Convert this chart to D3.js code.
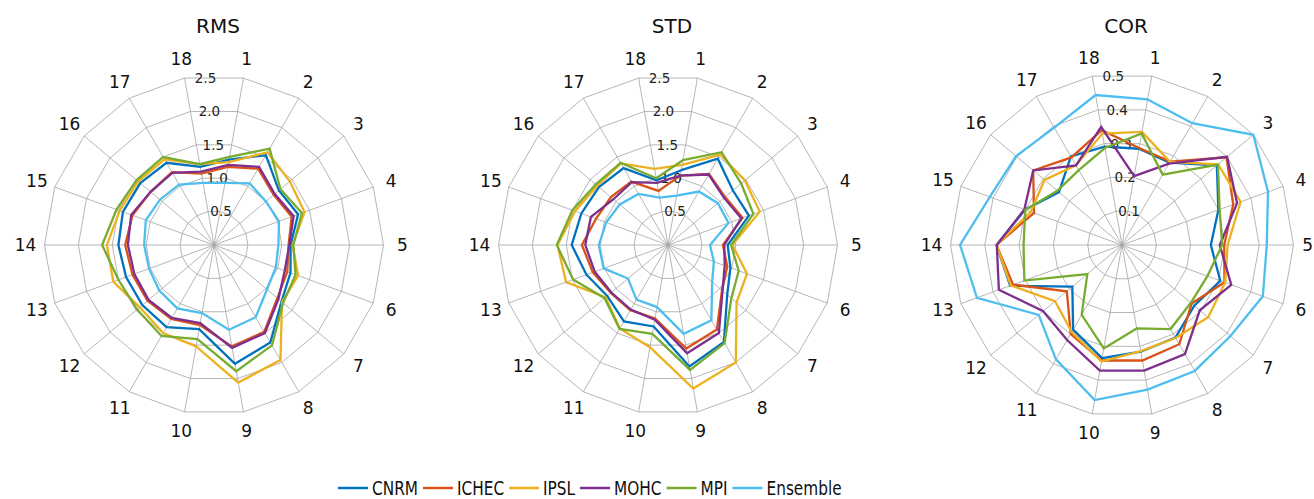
<!DOCTYPE html>
<html>
<head>
<meta charset="utf-8">
<script src="https://cdn.jsdelivr.net/npm/d3@7"></script>
<style>
  html, body { margin: 0; padding: 0; background: #fff; }
  svg { display: block; }
</style>
</head>
<body>
<script>
// Region numbers around each radar
const categories = ["1","2","3","4","5","6","7","8","9","10","11","12","13","14","15","16","17","18"];

const seriesNames = ["CNRM", "ICHEC", "IPSL", "MOHC", "MPI", "Ensemble"];
const seriesColors = ["#0072BD", "#D95319", "#EDB120", "#7E2F8E", "#77AC30", "#4DBEEE"];

// RMS per region
const rmsCNRM  = [1.28, 1.53, 1.25, 1.32, 1.13, 1.20, 1.30, 1.66, 1.78, 1.26, 1.40, 1.38, 1.38, 1.41, 1.43, 1.42, 1.40, 1.17];
const rmsICHEC = [1.17, 1.30, 1.15, 1.22, 1.10, 1.15, 1.22, 1.48, 1.52, 1.20, 1.26, 1.28, 1.28, 1.31, 1.28, 1.22, 1.24, 1.07];
const rmsIPSL  = [1.24, 1.58, 1.46, 1.42, 1.16, 1.32, 1.31, 1.96, 2.06, 1.52, 1.50, 1.43, 1.58, 1.58, 1.48, 1.46, 1.46, 1.21];
const rmsMOHC  = [1.20, 1.33, 1.17, 1.25, 1.11, 1.11, 1.24, 1.50, 1.54, 1.17, 1.24, 1.26, 1.25, 1.27, 1.30, 1.22, 1.23, 1.10];
const rmsMPI   = [1.32, 1.64, 1.28, 1.38, 1.17, 1.28, 1.33, 1.71, 1.89, 1.41, 1.55, 1.48, 1.50, 1.65, 1.53, 1.49, 1.50, 1.21];
const rmsEns   = [0.93, 1.05, 1.00, 1.02, 0.95, 0.97, 1.02, 1.23, 1.27, 1.02, 1.08, 1.05, 1.02, 1.03, 1.07, 1.04, 1.03, 0.93];

// STD per region
const stdCNRM  = [1.12, 1.47, 1.25, 1.27, 0.88, 0.98, 1.14, 1.65, 1.82, 1.22, 1.30, 1.17, 1.28, 1.42, 1.36, 1.33, 1.31, 0.97];
const stdICHEC = [1.04, 1.21, 1.10, 1.17, 0.81, 0.93, 1.04, 1.44, 1.55, 1.10, 1.11, 1.10, 1.18, 1.27, 1.13, 1.10, 1.08, 0.81];
const stdIPSL  = [1.20, 1.54, 1.48, 1.44, 0.95, 1.24, 1.32, 2.00, 2.15, 1.53, 1.42, 1.20, 1.60, 1.63, 1.46, 1.36, 1.39, 1.14];
const stdMOHC  = [1.04, 1.20, 1.08, 1.15, 0.83, 0.89, 1.05, 1.50, 1.62, 1.12, 1.10, 1.09, 1.15, 1.22, 1.21, 1.05, 1.07, 0.93];
const stdMPI   = [1.27, 1.58, 1.41, 1.34, 0.93, 1.11, 1.22, 1.67, 1.87, 1.33, 1.43, 1.22, 1.49, 1.64, 1.50, 1.39, 1.40, 1.00];
const stdEns   = [0.74, 0.91, 0.96, 0.95, 0.62, 0.72, 0.85, 1.28, 1.33, 0.93, 0.93, 0.77, 1.01, 1.02, 0.97, 0.93, 0.87, 0.71];

// COR per region
const corCNRM  = [0.285, 0.277, 0.361, 0.299, 0.259, 0.305, 0.275, 0.312, 0.316, 0.335, 0.285, 0.189, 0.347, 0.366, 0.301, 0.240, 0.298, 0.291];
const corICHEC = [0.287, 0.281, 0.398, 0.345, 0.298, 0.318, 0.265, 0.334, 0.342, 0.342, 0.299, 0.210, 0.338, 0.366, 0.273, 0.338, 0.295, 0.340];
const corIPSL  = [0.335, 0.280, 0.366, 0.368, 0.308, 0.320, 0.328, 0.313, 0.314, 0.345, 0.293, 0.255, 0.345, 0.366, 0.283, 0.295, 0.268, 0.330];
const corMOHC  = [0.204, 0.274, 0.400, 0.357, 0.285, 0.339, 0.296, 0.367, 0.372, 0.372, 0.320, 0.300, 0.382, 0.365, 0.303, 0.338, 0.268, 0.350];
const corMPI   = [0.330, 0.237, 0.365, 0.303, 0.292, 0.265, 0.262, 0.283, 0.247, 0.306, 0.235, 0.132, 0.303, 0.287, 0.300, 0.246, 0.252, 0.287];
const corEns   = [0.431, 0.410, 0.500, 0.453, 0.422, 0.437, 0.413, 0.424, 0.428, 0.459, 0.385, 0.317, 0.450, 0.472, 0.410, 0.403, 0.395, 0.444];

// Ring tick labels
const rmsTicks = [0.5, 1.0, 1.5, 2.0, 2.5];
const stdTicks = [0.5, 1.0, 1.5, 2.0, 2.5];
const corTicks = [0.1, 0.2, 0.3, 0.4, 0.5];

const W = 1314, H = 499;
const svg = d3.select("body").append("svg").attr("width", W).attr("height", H);

const panels = [
  { title: "RMS", cx: 214,  cy: 245, R: 169.5, ticks: rmsTicks, fmt: d3.format(".1f"),
    series: [rmsCNRM, rmsICHEC, rmsIPSL, rmsMOHC, rmsMPI, rmsEns] },
  { title: "STD", cx: 668,  cy: 245, R: 169.5, ticks: stdTicks, fmt: d3.format(".1f"),
    series: [stdCNRM, stdICHEC, stdIPSL, stdMOHC, stdMPI, stdEns] },
  { title: "COR", cx: 1122, cy: 245, R: 171.5, ticks: corTicks, fmt: d3.format(".1f"),
    series: [corCNRM, corICHEC, corIPSL, corMOHC, corMPI, corEns] }
];

const step = 2 * Math.PI / categories.length;
// first region sits half a step clockwise from 12 o'clock
const angleOf = i => (i + 0.5) * step;

function drawRadar(p) {
  const g = svg.append("g").attr("transform", `translate(${p.cx},${p.cy})`);
  const rScale = d3.scaleLinear().domain([0, d3.max(p.ticks)]).range([0, p.R]);
  const idx = d3.range(categories.length);

  const ring = d3.lineRadial()
    .angle(i => angleOf(i))
    .curve(d3.curveLinearClosed);

  // concentric polygons
  g.selectAll("path.ring").data(p.ticks).join("path")
    .attr("class", "ring")
    .attr("d", t => ring.radius(() => rScale(t))(idx))
    .attr("fill", "none")
    .attr("stroke", "#a3a3a3")
    .attr("stroke-width", 0.8);

  // spokes
  g.selectAll("line.spoke").data(idx).join("line")
    .attr("class", "spoke")
    .attr("x1", 0).attr("y1", 0)
    .attr("x2", i => rScale.range()[1] * Math.sin(angleOf(i)))
    .attr("y2", i => -rScale.range()[1] * Math.cos(angleOf(i)))
    .attr("stroke", "#a3a3a3")
    .attr("stroke-width", 0.8);

  // ring value labels
  g.selectAll("text.tick").data(p.ticks).join("text")
    .attr("class", "tick")
    .attr("x", t => 11 - 0.115 * rScale(t))
    .attr("y", t => -rScale(t) * Math.cos(step / 2))
    .attr("dy", "0.36em")
    .attr("text-anchor", "middle")
    .attr("font-family", "DejaVu Sans, sans-serif")
    .attr("font-size", 13.5)
    .attr("fill", "#222")
    .text(t => p.fmt(t));

  // region numbers, kept inside the drawing area
  const labR = p.R + 19;
  g.selectAll("text.cat").data(categories).join("text")
    .attr("class", "cat")
    .attr("x", (d, i) => labR * Math.sin(angleOf(i)))
    .attr("y", (d, i) => -labR * Math.cos(angleOf(i)))
    .attr("dy", "0.36em")
    .attr("text-anchor", "middle")
    .attr("font-family", "DejaVu Sans, sans-serif")
    .attr("font-size", 17)
    .attr("fill", "#111")
    .text(d => d)
    .each(function () {
      const b = this.getBBox();
      const overflow = p.cx + b.x + b.width - (W - 1);
      if (overflow > 0) d3.select(this).attr("x", +this.getAttribute("x") - overflow);
    });

  // model outlines
  const line = d3.lineRadial()
    .angle((d, i) => angleOf(i))
    .radius(d => rScale(d))
    .curve(d3.curveLinearClosed);

  g.selectAll("path.series").data(p.series).join("path")
    .attr("class", "series")
    .attr("d", d => line(d))
    .attr("fill", "none")
    .attr("stroke", (d, i) => seriesColors[i])
    .attr("stroke-width", 2.3)
    .attr("stroke-linejoin", "miter");

  // panel title
  svg.append("text")
    .attr("x", p.cx + 4)
    .attr("y", 33)
    .attr("text-anchor", "middle")
    .attr("font-family", "DejaVu Sans, sans-serif")
    .attr("font-size", 20)
    .attr("fill", "#111")
    .text(p.title);
}

panels.forEach(drawRadar);

// legend along the bottom, in a condensed face
const legend = svg.append("g").attr("class", "legend");
const legendFont = "'Liberation Sans Narrow', 'Arial Narrow', 'DejaVu Sans Condensed', sans-serif";
const legendSize = 20;
const probe = legend.append("text")
  .attr("font-family", legendFont).attr("font-size", legendSize).text("CNRM");
const squeeze = 46 / probe.node().getComputedTextLength();
probe.remove();

let lx = 338;
const ly = 488;
seriesNames.forEach((name, i) => {
  legend.append("line")
    .attr("x1", lx).attr("x2", lx + 30)
    .attr("y1", ly).attr("y2", ly)
    .attr("stroke", seriesColors[i])
    .attr("stroke-width", 2.5);
  const tx = lx + 34;
  const t = legend.append("text")
    .attr("x", tx)
    .attr("y", ly + 6.5)
    .attr("font-family", legendFont)
    .attr("font-size", legendSize)
    .attr("fill", "#111")
    .text(name);
  const w = t.node().getComputedTextLength() * squeeze;
  t.attr("textLength", w).attr("lengthAdjust", "spacingAndGlyphs");
  lx = tx + w + 5;
});
</script>
</body>
</html>
